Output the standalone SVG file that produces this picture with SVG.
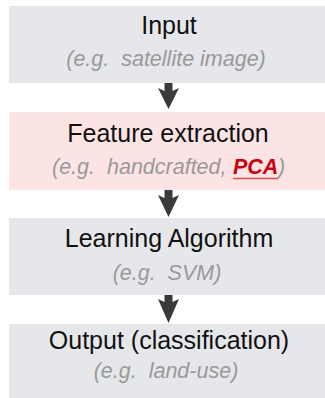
<svg xmlns="http://www.w3.org/2000/svg" width="325" height="398" viewBox="0 0 325 398">
<defs>
<style>
.box-gray{fill:#e6e7ea}
.box-pink{fill:#fde4e4}
.title{font-family:"Liberation Sans",Arial,sans-serif;font-size:25px;fill:#111;text-anchor:middle}
.sub{font-family:"Liberation Sans",Arial,sans-serif;font-size:21.5px;font-style:italic;fill:#999}
.mid{text-anchor:middle}
.pca{fill:#c8000f;font-weight:bold}
.arrow{fill:#3a3a3a}
</style>
</defs>
<rect width="325" height="398" fill="#fff"/>
<g id="input">
<rect class="box-gray" x="9" y="6" width="320" height="77"/>
<text class="title" x="169" y="34">Input</text>
<text class="sub mid" x="166" y="66" xml:space="preserve">(e.g.  satellite image)</text>
</g>
<g id="feature-extraction">
<rect class="box-pink" x="9" y="112" width="320" height="78"/>
<text class="title" x="168" y="142">Feature extraction</text>
<text class="sub" x="52" y="174" xml:space="preserve">(e.g.  handcrafted,</text>
<text class="sub pca" x="233" y="174">PCA</text>
<text class="sub" x="278" y="174">)</text>
<line x1="233" y1="178.5" x2="278" y2="178.5" stroke="#e05050" stroke-width="1.3"/>
</g>
<g id="learning-algorithm">
<rect class="box-gray" x="9" y="218" width="320" height="77"/>
<text class="title" x="169" y="247">Learning Algorithm</text>
<text class="sub mid" x="167" y="280" xml:space="preserve">(e.g.  SVM)</text>
</g>
<g id="output">
<rect class="box-gray" x="9" y="324" width="320" height="74"/>
<text class="title" x="169" y="349">Output (classification)</text>
<text class="sub mid" x="166" y="378" xml:space="preserve">(e.g.  land-use)</text>
</g>
<g id="connectors">
<path class="arrow" d="M164.5,83 H172.5 V91 L179,88 L168.5,109 L158,88 L164.5,91 Z"/>
<path class="arrow" d="M164.5,190 H172.5 V198 L179,195 L168.5,217 L158,195 L164.5,198 Z"/>
<path class="arrow" d="M164.5,295 H172.5 V302 L179,299 L168.5,323 L158,299 L164.5,302 Z"/>
</g>
</svg>
